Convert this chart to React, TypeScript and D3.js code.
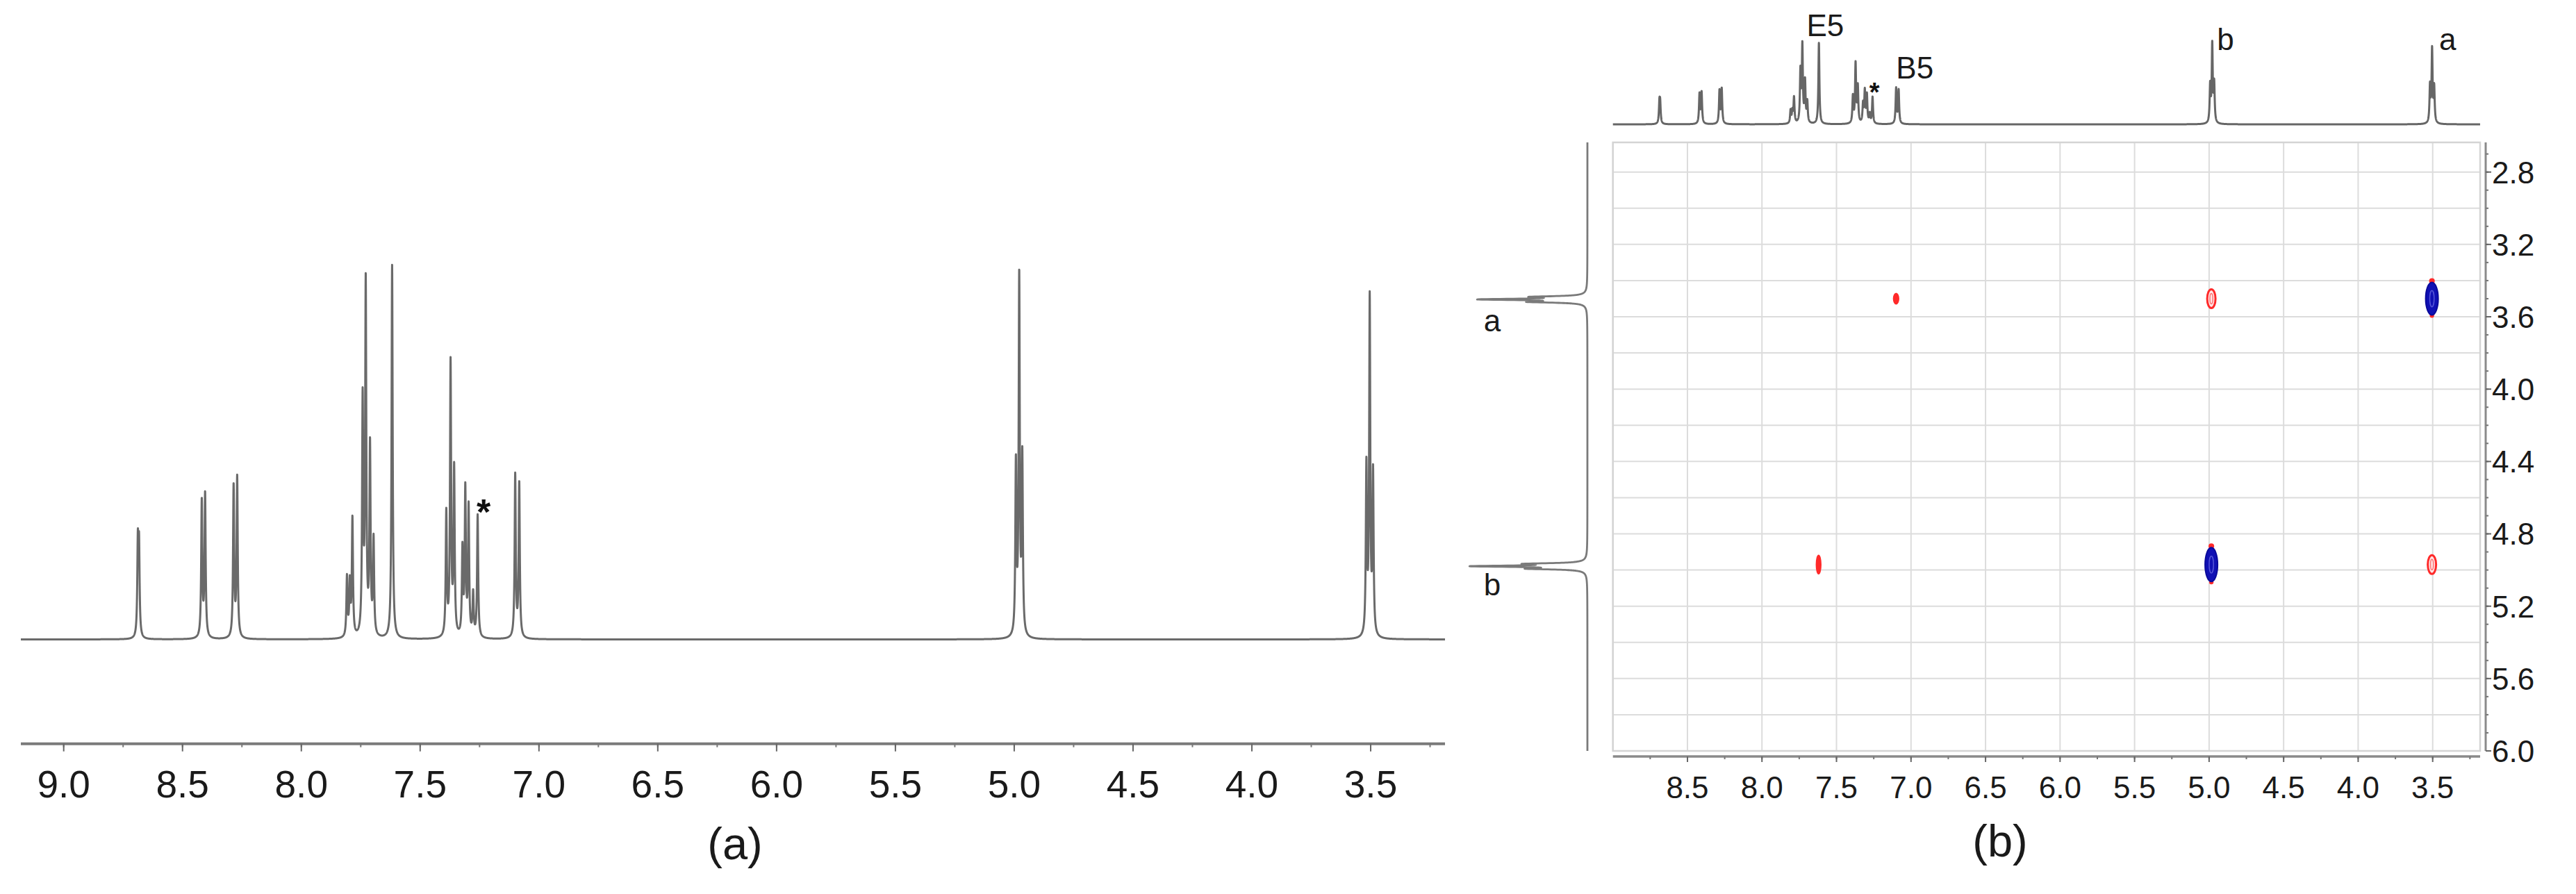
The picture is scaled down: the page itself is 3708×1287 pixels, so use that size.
import React from 'react';
import * as d3 from 'd3';

const W = 3708;
const H = 1287;

// 1H spectrum: line positions (ppm) and relative heights (tallest = 100)
const linePpm = [8.688, 8.683, 8.419, 8.405, 8.285, 8.270, 7.808, 7.796, 7.785, 7.742, 7.729, 7.711, 7.696, 7.618, 7.390, 7.372, 7.357, 7.322, 7.310, 7.296, 7.277, 7.258, 7.100, 7.083, 4.993, 4.979, 4.966, 3.518, 3.504, 3.490];
const lineHeight = [24, 23, 36.5, 38.3, 40.5, 42.7, 16, 14, 31.5, 62.5, 94, 50.5, 25.5, 100, 33, 73, 44.5, 23, 39, 34.5, 11.5, 32.8, 43.5, 41.3, 45.5, 95.5, 47, 45, 89.8, 43];

// axis ticks
const ticksA = [9.0, 8.5, 8.0, 7.5, 7.0, 6.5, 6.0, 5.5, 5.0, 4.5, 4.0, 3.5];
const minorTicksA = [9.0, 8.75, 8.5, 8.25, 8.0, 7.75, 7.5, 7.25, 7.0, 6.75, 6.5, 6.25, 6.0, 5.75, 5.5, 5.25, 5.0, 4.75, 4.5, 4.25, 4.0, 3.75, 3.5, 3.25];
const ticksBx = [8.5, 8.0, 7.5, 7.0, 6.5, 6.0, 5.5, 5.0, 4.5, 4.0, 3.5];
const gridBx = [9.0, 8.5, 8.0, 7.5, 7.0, 6.5, 6.0, 5.5, 5.0, 4.5, 4.0, 3.5];
const minorTicksBx = [8.75, 8.5, 8.25, 8.0, 7.75, 7.5, 7.25, 7.0, 6.75, 6.5, 6.25, 6.0, 5.75, 5.5, 5.25, 5.0, 4.75, 4.5, 4.25, 4.0, 3.75, 3.5, 3.25];
const ticksBy = [2.8, 3.2, 3.6, 4.0, 4.4, 4.8, 5.2, 5.6, 6.0];
const gridBy = [2.8, 3.0, 3.2, 3.4, 3.6, 3.8, 4.0, 4.2, 4.4, 4.6, 4.8, 5.0, 5.2, 5.4, 5.6, 5.8, 6.0];
const minorTicksBy = [2.7, 2.8, 2.9, 3.0, 3.1, 3.2, 3.3, 3.4, 3.5, 3.6, 3.7, 3.8, 3.9, 4.0, 4.1, 4.2, 4.3, 4.4, 4.5, 4.6, 4.7, 4.8, 4.9, 5.0, 5.1, 5.2, 5.3, 5.4, 5.5, 5.6, 5.7, 5.8, 5.9, 6.0];

// 2D cross peaks (F2 ppm, F1 ppm, phase, half-extent in ppm)
const crossF2 = [7.10, 4.985, 3.505, 7.62, 4.985, 3.505];
const crossF1 = [3.50, 3.50, 3.50, 4.97, 4.97, 4.97];
const crossPhase = [-1, -1, 1, -1, 1, -1];
const crossHalfF2 = [0.018, 0.028, 0.042, 0.016, 0.042, 0.028];
const crossHalfF1 = [0.03, 0.052, 0.09, 0.052, 0.094, 0.052];

// annotations
const topLabels = ['E5', 'B5', 'b', 'a'];
const topLabelPpm = [7.575, 7.10, 4.89, 3.40];
const projLabels = ['a', 'b'];
const projLabelPpm = [3.50, 4.98];

function lorentz(from: number, to: number, step: number, gamma: number): [number, number][] {
  const pts: [number, number][] = [];
  const g2 = gamma * gamma;
  const n = Math.round(Math.abs(to - from) / step);
  const dir = to > from ? 1 : -1;
  for (let i = 0; i <= n; i++) {
    const p = from + dir * i * step;
    let s = 0;
    for (let k = 0; k < linePpm.length; k++) {
      const d = p - linePpm[k];
      s += lineHeight[k] * g2 / (d * d + g2);
    }
    pts.push([p, s]);
  }
  return pts;
}

export default function App() {
  const font = "'Liberation Sans', Arial, Helvetica, sans-serif";

  // Panel (a)
  const xA = d3.scaleLinear().domain([9.0, 3.5]).range([91.7, 1973]);
  const yA = d3.scaleLinear().domain([0, 100]).range([920.5, 382.5]);
  const domA: [number, number] = [xA.invert(30), xA.invert(2080)];
  const specA = lorentz(domA[0], domA[1], 0.0004, 0.0028);
  const lineA = d3.line<[number, number]>().x(d => xA(d[0])).y(d => yA(d[1]));
  const axisYA = 1070.7;

  // Panel (b)
  const xB = d3.scaleLinear().domain([9.0, 3.5]).range([2321.7, 3501.7]);
  const yB = d3.scaleLinear().domain([2.8, 6.0]).range([247.7, 1081]);
  const boxL = xB(9.0), boxR = 3570, boxT = 205, boxBt = 1081;
  const domBx: [number, number] = [9.0, xB.invert(boxR)];
  const domBy: [number, number] = [yB.invert(boxT), 6.0];
  const yTop = d3.scaleLinear().domain([0, 100]).range([179, 62]);
  const specTop = lorentz(domBx[0], domBx[1], 0.0006, 0.004);
  const lineTop = d3.line<[number, number]>().x(d => xB(d[0])).y(d => yTop(d[1]));
  const xProj = d3.scaleLinear().domain([0, 100]).range([2285, 2123]);
  const specProj = lorentz(domBy[0], domBy[1], 0.0005, 0.0045);
  const lineProj = d3.line<[number, number]>().x(d => xProj(d[1])).y(d => yB(d[0]));
  const axisYB = 1089;
  const axisXB = 3578;

  const red = '#ff2a2a';
  const blue = '#1010b4';

  const labelY: Record<string, number> = { E5: 52, B5: 113, b: 72, a: 72 };
  const labelAnchor: Record<string, string> = { E5: 'middle', B5: 'start', b: 'middle', a: 'middle' };

  return (
    <svg width={W} height={H} viewBox={`0 0 ${W} ${H}`} style={{ position: 'absolute', left: 0, top: 0, background: '#fff' }}>
      <rect x={0} y={0} width={W} height={H} fill="#ffffff" />
      {/* ---------- Panel (a) ---------- */}
      <path d={lineA(specA) || ''} fill="none" stroke="#6a6a6a" strokeWidth={3} strokeLinejoin="round" />
      <text x={xA(7.233)} y={755} fontFamily={font} fontWeight="bold" fontSize={52} textAnchor="middle" fill="#111">*</text>
      <line x1={30} x2={2080} y1={axisYA} y2={axisYA} stroke="#7a7a7a" strokeWidth={4} />
      {minorTicksA.map(t => (
        <line key={'ma' + t} x1={xA(t)} x2={xA(t)} y1={axisYA} y2={axisYA + 5} stroke="#777" strokeWidth={2} />
      ))}
      {ticksA.map(t => (
        <g key={'ta' + t}>
          <line x1={xA(t)} x2={xA(t)} y1={axisYA} y2={axisYA + 11} stroke="#666" strokeWidth={2} />
          <text x={xA(t)} y={1148} fontFamily={font} fontSize={55} textAnchor="middle" fill="#1a1a1a">{t.toFixed(1)}</text>
        </g>
      ))}
      <text x={1058} y={1237} fontFamily={font} fontSize={65} textAnchor="middle" fill="#1a1a1a">(a)</text>

      {/* ---------- Panel (b) ---------- */}
      {/* grid */}
      {gridBx.map(t => (
        <line key={'gx' + t} x1={xB(t)} x2={xB(t)} y1={boxT} y2={boxBt} stroke="#dcdcdc" strokeWidth={2} />
      ))}
      {gridBy.map(t => (
        <line key={'gy' + t} x1={boxL} x2={boxR} y1={yB(t)} y2={yB(t)} stroke="#dcdcdc" strokeWidth={2} />
      ))}
      <rect x={boxL} y={boxT} width={boxR - boxL} height={boxBt - boxT} fill="none" stroke="#d4d4d4" strokeWidth={2.5} />

      {/* top 1D projection */}
      <path d={lineTop(specTop) || ''} fill="none" stroke="#666" strokeWidth={3} strokeLinejoin="round" />
      {topLabels.map((l, i) => (
        <text key={'tl' + l} x={xB(topLabelPpm[i])} y={labelY[l]} fontFamily={font} fontSize={44} textAnchor={labelAnchor[l]} fill="#1a1a1a">{l}</text>
      ))}
      <text x={xB(7.245)} y={146} fontFamily={font} fontWeight="bold" fontSize={38} textAnchor="middle" fill="#111">*</text>

      {/* left 1D projection */}
      <path d={lineProj(specProj) || ''} fill="none" stroke="#7a7a7a" strokeWidth={2.8} strokeLinejoin="round" />
      {projLabels.map((l, i) => (
        <text key={'pl' + l} x={2148} y={yB(projLabelPpm[i]) + (l === 'a' ? 47 : 42)} fontFamily={font} fontSize={44} textAnchor="middle" fill="#1a1a1a">{l}</text>
      ))}

      {/* cross peaks */}
      {crossF2.map((f2, i) => {
        const cx = xB(f2);
        const cy = yB(crossF1[i]);
        const rx = Math.abs(xB(f2 + crossHalfF2[i]) - cx);
        const ry = Math.abs(yB(crossF1[i] + crossHalfF1[i]) - cy);
        if (crossPhase[i] > 0) {
          return (
            <g key={'cp' + i}>
              <ellipse cx={cx} cy={cy - ry - 2} rx={rx * 0.45} ry={4} fill={red} />
              <ellipse cx={cx} cy={cy + ry + 1} rx={rx * 0.35} ry={3} fill={red} />
              <ellipse cx={cx} cy={cy} rx={rx} ry={ry} fill={blue} stroke="#0a0a9a" strokeWidth={2} />
              <ellipse cx={cx} cy={cy} rx={rx * 0.35} ry={ry * 0.5} fill="none" stroke="#5555d8" strokeWidth={1.5} />
            </g>
          );
        }
        const ring = rx > 5;
        return (
          <g key={'cn' + i}>
            <ellipse cx={cx} cy={cy} rx={rx} ry={ry} fill={ring ? '#ffe5e5' : red} stroke={red} strokeWidth={ring ? 3 : 1.5} />
            {ring && <ellipse cx={cx} cy={cy} rx={rx * 0.35} ry={ry * 0.55} fill="none" stroke="#ff7070" strokeWidth={1.5} />}
          </g>
        );
      })}

      {/* bottom axis */}
      <line x1={boxL} x2={boxR} y1={axisYB} y2={axisYB} stroke="#8a8a8a" strokeWidth={3.5} />
      {minorTicksBx.map(t => (
        <line key={'mbx' + t} x1={xB(t)} x2={xB(t)} y1={axisYB} y2={axisYB + 4} stroke="#777" strokeWidth={2} />
      ))}
      {ticksBx.map(t => (
        <g key={'tbx' + t}>
          <line x1={xB(t)} x2={xB(t)} y1={axisYB} y2={axisYB + 8} stroke="#666" strokeWidth={2} />
          <text x={xB(t)} y={1149} fontFamily={font} fontSize={44} textAnchor="middle" fill="#1a1a1a">{t.toFixed(1)}</text>
        </g>
      ))}
      {/* right axis */}
      <line x1={axisXB} x2={axisXB} y1={boxT} y2={boxBt} stroke="#8a8a8a" strokeWidth={3} />
      {minorTicksBy.map(t => (
        <line key={'mby' + t} x1={axisXB} x2={axisXB + 4} y1={yB(t)} y2={yB(t)} stroke="#777" strokeWidth={2} />
      ))}
      {ticksBy.map(t => (
        <g key={'tby' + t}>
          <line x1={axisXB} x2={axisXB + 8} y1={yB(t)} y2={yB(t)} stroke="#666" strokeWidth={2} />
          <text x={3587} y={yB(t)} dy="0.36em" fontFamily={font} fontSize={44} textAnchor="start" fill="#1a1a1a">{t.toFixed(1)}</text>
        </g>
      ))}
      <text x={2879} y={1233} fontFamily={font} fontSize={65} textAnchor="middle" fill="#1a1a1a">(b)</text>
    </svg>
  );
}
